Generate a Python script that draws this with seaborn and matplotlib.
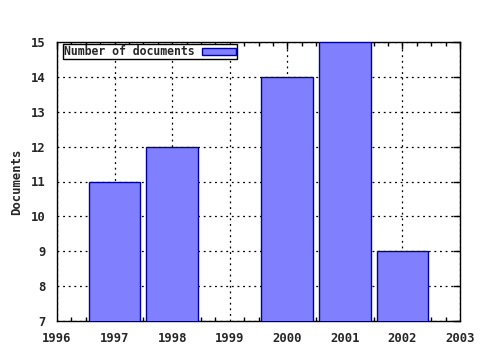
import matplotlib
matplotlib.use("Agg")
import matplotlib.pyplot as plt
import seaborn as sns
import pandas as pd
from matplotlib.ticker import MultipleLocator, FuncFormatter

years = [1997, 1998, 2000, 2001, 2002]
documents = [11, 12, 14, 15, 9]
series_label = "Number of documents"
y_label = "Documents"

sns.set_style("white")
plt.rcParams['font.family'] = ['DejaVu Sans Mono']
plt.rcParams['font.weight'] = 'bold'

df = pd.DataFrame({"year": years, "docs": documents, "series": series_label})

fig = plt.figure(figsize=(4.8, 3.5), dpi=100)
ax = fig.add_axes([57/480, 1-321/350, (460-57)/480, (321-42)/350])

sns.barplot(data=df, x="year", y="docs", hue="series", native_scale=True,
            width=0.9, palette=["#8080ff"], edgecolor="#0000a0", linewidth=1,
            saturation=1, ax=ax, dodge=False)
for p in ax.patches:
    p.set_zorder(3)

ax.set_xlim(1996, 2003)
ax.set_ylim(7, 15)
ax.xaxis.set_major_locator(MultipleLocator(1))
ax.xaxis.set_minor_locator(MultipleLocator(0.25))
ax.yaxis.set_major_locator(MultipleLocator(1))
ax.xaxis.set_major_formatter(FuncFormatter(lambda v, p: f"{int(round(v))}"))
ax.yaxis.set_major_formatter(FuncFormatter(lambda v, p: f"{int(round(v))}"))
ax.tick_params(axis='both', which='major', direction='in', length=5, width=1,
               top=True, right=True, labelsize=8.8, color='black', pad=8)
ax.tick_params(axis='x', which='minor', direction='in', length=3, width=1,
               top=True, bottom=True, color='black')
for lbl in ax.get_xticklabels() + ax.get_yticklabels():
    lbl.set_fontweight('bold')

ax.grid(True, which='major', linestyle=(0, (1.5, 3)), color='black', linewidth=0.9, zorder=0)
ax.set_axisbelow(True)
for s in ax.spines.values():
    s.set_color('black')
    s.set_linewidth(1)

ax.set_xlabel("")
ax.set_ylabel(y_label, fontsize=8.8, fontweight='bold', labelpad=6)

leg = ax.legend(loc='upper left', markerfirst=False, fancybox=False,
                edgecolor='black', framealpha=1, fontsize=8.3,
                borderpad=0.1, handlelength=3.0, handleheight=0.55, handletextpad=0.6,
                bbox_to_anchor=(6/403, 1 - 2/279), borderaxespad=0)
leg.get_frame().set_linewidth(1)
for t in leg.get_texts():
    t.set_fontweight('bold')

fig.savefig("out.png", dpi=100)
